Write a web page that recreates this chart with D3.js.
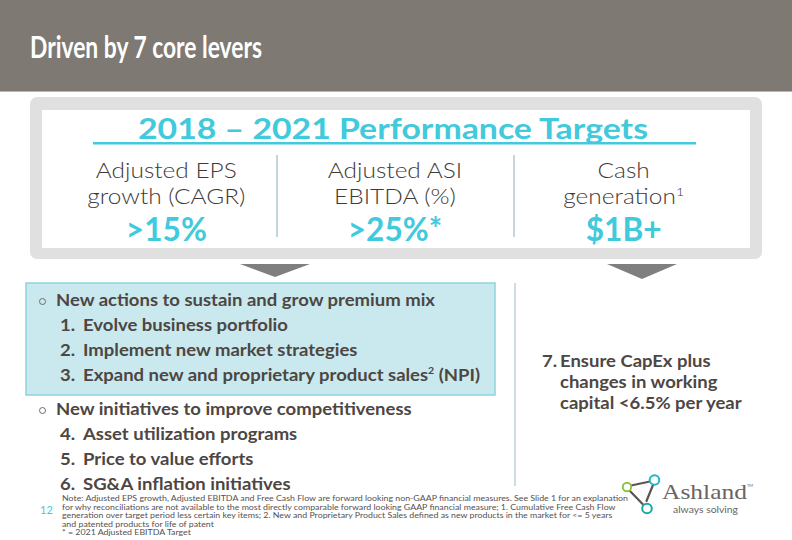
<!DOCTYPE html>
<html>
<head>
<meta charset="utf-8">
<script src="https://cdn.jsdelivr.net/npm/d3@7/dist/d3.min.js"></script>
<style>
  html, body { margin: 0; padding: 0; background: #ffffff; }
  svg { display: block; }
  text { font-family: Lato, "Open Sans", sans-serif; }
</style>
</head>
<body>
<svg id="chart" width="792" height="540"></svg>
<script>
// ---------------- data ----------------
const slideTitle = "Driven by 7 core levers";
const targetsTitle = "2018 – 2021 Performance Targets";
const metricLine1 = ["Adjusted EPS", "Adjusted ASI", "Cash"];
const metricLine2 = ["growth (CAGR)", "EBITDA (%)", "generation"];
const metricNote = ["", "", "1"];
const metricValues = [">15%", ">25%*", "$1B+"];

const mixHeading = "New actions to sustain and grow premium mix";
const mixLevers = ["Evolve business portfolio", "Implement new market strategies", "Expand new and proprietary product sales"];
const mixNotes = ["", "", "2"];
const mixSuffix = ["", "", " (NPI)"];
const competitivenessHeading = "New initiatives to improve competitiveness";
const competitivenessLevers = ["Asset utilization programs", "Price to value efforts", "SG&A inflation initiatives"];
const cashLeverNumber = 7;
const cashLeverLines = ["Ensure CapEx plus", "changes in working", "capital <6.5% per year"];

const footnotes = [
  "Note: Adjusted EPS growth, Adjusted EBITDA and Free Cash Flow are forward looking non-GAAP financial measures.  See Slide 1 for an explanation",
  "for why reconciliations are not available to the most directly comparable forward looking GAAP financial measure; 1. Cumulative Free Cash Flow",
  "generation over target period less certain key items; 2. New and Proprietary Product Sales defined as new products in the market for <= 5 years",
  "and patented products for life of patent",
  "* = 2021 Adjusted EBITDA Target"
];
const pageNumber = "12";
const brandName = "Ashland";
const brandTagline = "always solving";

// ---------------- helpers ----------------
const svg = d3.select("#chart");
const COL = {
  header: "#7e7973", frame: "#e0e0e0", cyan: "#41c9dc", dark: "#403a37",
  body: "#4d4643", divider: "#8aaabb", boxFill: "#c9e9ee", boxStroke: "#8fd3de",
  arrow: "#7f7f7f", rule: "#a9c7d6", logo: "#6b6461"
};
function hfit(sel, k, anchor) {
  sel.each(function () {
    const t = d3.select(this);
    const w = this.getComputedTextLength();
    t.attr("textLength", w * k).attr("lengthAdjust", "spacingAndGlyphs");
    if (anchor === "middle") {
      const c = +t.attr("data-cx");
      t.attr("x", c - (w * k) / 2).attr("text-anchor", "start");
    }
  });
}
function kFor(node, target) { return target / node.getComputedTextLength(); }

// ---------------- header ----------------
svg.append("rect").attr("x", 0).attr("y", 0).attr("width", 792).attr("height", 91).attr("fill", COL.header);
svg.append("rect").attr("x", 0).attr("y", 91).attr("width", 792).attr("height", 1).attr("fill", "#b9b5b1");
const tt = svg.append("text").attr("x", 30).attr("y", 58)
  .attr("font-size", 31).attr("font-weight", 700).attr("fill", "#ffffff").text(slideTitle);
hfit(tt, kFor(tt.node(), 232));

// ---------------- targets frame ----------------
svg.append("rect").attr("x", 30).attr("y", 97).attr("width", 732).attr("height", 162)
  .attr("rx", 7).attr("fill", COL.frame);
svg.append("rect").attr("x", 42).attr("y", 110).attr("width", 708).attr("height", 138).attr("fill", "#ffffff");

const tg = svg.append("text").attr("x", 138).attr("y", 139)
  .attr("font-size", 29).attr("font-weight", 700).attr("fill", COL.cyan).text(targetsTitle);
hfit(tg, kFor(tg.node(), 510));
svg.append("rect").attr("x", 93).attr("y", 142).attr("width", 603).attr("height", 2.5).attr("fill", COL.cyan);

const colCenter = d3.scaleBand().domain(d3.range(metricValues.length)).range([52, 738]);
const colEdge = d3.scaleBand().domain(d3.range(metricValues.length)).range([40, 751]);
const cx = i => colCenter(i) + colCenter.bandwidth() / 2;

svg.selectAll("line.div").data(d3.range(1, metricValues.length)).join("line")
  .attr("x1", i => colEdge(i)).attr("x2", i => colEdge(i))
  .attr("y1", 155).attr("y2", 237).attr("stroke", COL.divider).attr("stroke-width", 1);

const l1 = svg.selectAll("text.l1").data(metricLine1).join("text").attr("class", "l1")
  .attr("data-cx", (d, i) => cx(i)).attr("x", (d, i) => cx(i)).attr("y", 178)
  .attr("font-size", 21).attr("font-weight", 300).attr("fill", COL.dark).text(d => d);
const l2 = svg.selectAll("text.l2").data(metricLine2).join("text").attr("class", "l2")
  .attr("data-cx", (d, i) => cx(i)).attr("x", (d, i) => cx(i)).attr("y", 204)
  .attr("font-size", 21).attr("font-weight", 300).attr("fill", COL.dark);
l2.append("tspan").text(d => d);
l2.append("tspan").attr("font-size", 12).attr("dy", -8).text((d, i) => metricNote[i]);
const kLab = kFor(l2.filter((d, i) => i === 0).node(), 158);
hfit(l1, kLab, "middle");
hfit(l2, kLab, "middle");

const vals = svg.selectAll("text.v").data(metricValues).join("text").attr("class", "v")
  .attr("data-cx", (d, i) => cx(i)).attr("x", (d, i) => cx(i)).attr("y", 241)
  .attr("font-size", 32).attr("font-weight", 700).attr("fill", COL.cyan).text(d => d);
hfit(vals, kFor(vals.node(), 81), "middle");

const arrowX = [275, 642];
svg.selectAll("path.arrow").data(arrowX).join("path")
  .attr("d", (d, i) => `M${d - 35},264 L${d + 35},264 L${d},${i ? 279 : 277} Z`)
  .attr("fill", COL.arrow);

// ---------------- levers ----------------
svg.append("rect").attr("x", 26).attr("y", 283).attr("width", 469).attr("height", 112)
  .attr("fill", COL.boxFill).attr("stroke", COL.boxStroke).attr("stroke-width", 1.5);
svg.append("line").attr("x1", 515).attr("x2", 515).attr("y1", 283).attr("y2", 486)
  .attr("stroke", COL.rule).attr("stroke-width", 1.2);

const rowsA = d3.scalePoint().domain(d3.range(4)).range([306, 381]);
const rowsB = d3.scalePoint().domain(d3.range(4)).range([415, 490]);
const bodyFont = 17.5;
const bodyTexts = [];

function heading(txt, y) {
  svg.append("circle").attr("cx", 42.5).attr("cy", y - 4.5).attr("r", 3)
    .attr("fill", "none").attr("stroke", "#6f6a66").attr("stroke-width", 1);
  bodyTexts.push(svg.append("text").attr("x", 56).attr("y", y)
    .attr("font-size", bodyFont).attr("font-weight", 700).attr("fill", COL.body).text(txt));
}
function lever(num, txt, y, note, suffix) {
  bodyTexts.push(svg.append("text").attr("x", 60).attr("y", y)
    .attr("font-size", bodyFont).attr("font-weight", 700).attr("fill", COL.body).text(num + "."));
  const t = svg.append("text").attr("x", 83).attr("y", y)
    .attr("font-size", bodyFont).attr("font-weight", 700).attr("fill", COL.body);
  t.append("tspan").text(txt);
  if (note) {
    t.append("tspan").attr("font-size", 10).attr("dy", -7).text(note);
    t.append("tspan").attr("dy", 7).text(suffix);
  }
  bodyTexts.push(t);
}
heading(mixHeading, rowsA(0));
mixLevers.forEach((d, i) => lever(i + 1, d, rowsA(i + 1), mixNotes[i], mixSuffix[i]));
heading(competitivenessHeading, rowsB(0));
competitivenessLevers.forEach((d, i) => lever(i + 4, d, rowsB(i + 1)));

const kBody = kFor(bodyTexts[0].node(), 379);
bodyTexts.forEach(t => hfit(t, kBody));

const cashY = d3.scalePoint().domain(d3.range(cashLeverLines.length)).range([367, 409]);
const c7 = svg.append("text").attr("x", 542).attr("y", cashY(0))
  .attr("font-size", bodyFont).attr("font-weight", 700).attr("fill", COL.body).text(cashLeverNumber + ".");
hfit(c7, kBody);
const cl = svg.selectAll("text.cash").data(cashLeverLines).join("text").attr("class", "cash")
  .attr("x", 560).attr("y", (d, i) => cashY(i))
  .attr("font-size", bodyFont).attr("font-weight", 700).attr("fill", COL.body).text(d => d);
hfit(cl, kBody);

// ---------------- footer ----------------
const fnY = d3.scalePoint().domain(d3.range(footnotes.length)).range([501, 535]);
const fn = svg.selectAll("text.fn").data(footnotes).join("text").attr("class", "fn")
  .attr("x", 62).attr("y", (d, i) => fnY(i))
  .attr("font-size", 8).attr("fill", "#555050").text(d => d);
hfit(fn, kFor(fn.node(), 566));

svg.append("text").attr("x", 40).attr("y", 514).attr("font-size", 11)
  .attr("fill", COL.cyan).text(pageNumber);

// logo
const logo = svg.append("g");
const nodes = [
  { x: 627, y: 487, r: 4.2, c: "#8cc63f" },
  { x: 654.5, y: 480, r: 4.8, c: "#1fb6c9" },
  { x: 647, y: 508.5, r: 4.8, c: "#1aa9a5" }
];
logo.append("line").attr("x1", 631).attr("y1", 485.5).attr("x2", 650).attr("y2", 481.5)
  .attr("stroke", "#5d5552").attr("stroke-width", 2.2).attr("stroke-linecap", "round");
logo.append("line").attr("x1", 653).attr("y1", 485).attr("x2", 646.5).attr("y2", 501)
  .attr("stroke", "#5d5552").attr("stroke-width", 2.2).attr("stroke-linecap", "round");
logo.append("line").attr("x1", 630).attr("y1", 491).attr("x2", 643.5).attr("y2", 505)
  .attr("stroke", "#5d5552").attr("stroke-width", 2.2).attr("stroke-linecap", "round");
logo.selectAll("circle").data(nodes).join("circle")
  .attr("cx", d => d.x).attr("cy", d => d.y).attr("r", d => d.r)
  .attr("fill", "#ffffff").attr("stroke", d => d.c).attr("stroke-width", 2);
const bn = logo.append("text").attr("x", 662).attr("y", 499)
  .style("font-family", "'Liberation Serif', 'DejaVu Serif', serif").attr("font-size", 21)
  .attr("fill", COL.logo).text(brandName);
hfit(bn, kFor(bn.node(), 85));
logo.append("text").attr("x", 747).attr("y", 487).attr("font-size", 4)
  .attr("fill", COL.logo).text("TM");
const tl = logo.append("text").attr("x", 673).attr("y", 513)
  .attr("font-size", 10).attr("fill", COL.logo).text(brandTagline);
hfit(tl, kFor(tl.node(), 65));
</script>
</body>
</html>
